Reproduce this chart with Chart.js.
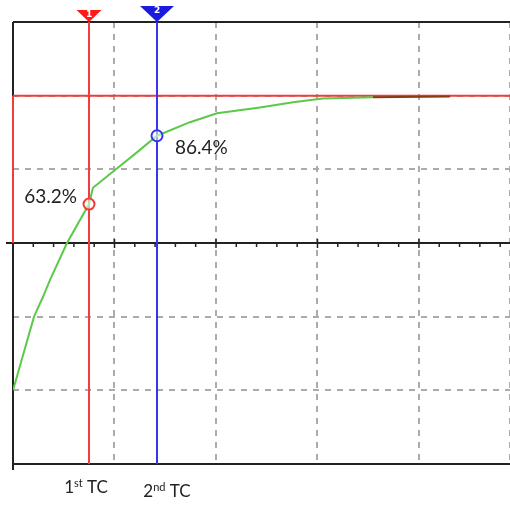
<!DOCTYPE html>
<html>
<head>
<meta charset="utf-8">
<style>
  html, body { margin: 0; padding: 0; background: #ffffff; }
  #wrap { width: 510px; height: 506px; }
  canvas { display: block; }
</style>
<script src="https://cdn.jsdelivr.net/npm/chart.js@4/dist/chart.umd.min.js"></script>
</head>
<body>
<div id="wrap"><canvas id="scope" width="510" height="506"></canvas></div>
<script>
// Step response captured on the scope, in screen divisions
const timeDiv     = [0, 0.207, 0.296, 0.365, 0.532, 0.749, 0.788, 1.005, 1.212, 1.419, 1.744, 2.010, 2.433, 2.759, 3.054, 3.547, 4.305];
const responseDiv = [1.0, 2.0, 2.27, 2.5, 3.0, 3.528, 3.75, 3.99, 4.22, 4.456, 4.64, 4.76, 4.84, 4.91, 4.96, 4.98, 4.99];

// Levels of the step (divisions) and the screen extent
const startLevel = 1;
const finalLevel = 5;
const zeroLevel = 3;
const xDivs = 4.897;
const yDivs = 6;

// Cursor readings: one and two time constants
const cursorTimes = [0.749, 1.419];
const tcFractions = [0.632, 0.864];
const cursorNumbers = ['1', '2'];
const cursorOrdinals = ['st', 'nd'];
const cursorColors = ['#f23b3b', '#3535f0'];

const tcLevels = tcFractions.map(f => startLevel + (finalLevel - startLevel) * f);
const tcLabels = tcFractions.map(f => (f * 100).toFixed(1) + '%');

const curve = timeDiv.map((t, i) => ({ x: t, y: responseDiv[i] }));
const lastSeg = curve.length - 2;

// Frame, centre axis with minor ticks, cursor flags and annotations
const scopeDecor = {
  id: 'scopeDecor',
  beforeDatasetsDraw(chart) {
    const { ctx, chartArea: a, scales: { x, y } } = chart;
    ctx.save();
    ctx.strokeStyle = '#222222';
    ctx.lineWidth = 2;
    ctx.beginPath();
    ctx.moveTo(a.left, a.top); ctx.lineTo(a.right, a.top);
    ctx.moveTo(a.left, a.top); ctx.lineTo(a.left, a.bottom + 6);
    ctx.moveTo(a.left, a.bottom); ctx.lineTo(a.right, a.bottom);
    ctx.stroke();
    // centre axis
    const y0 = y.getPixelForValue(zeroLevel);
    ctx.beginPath();
    ctx.moveTo(a.left - 7, y0); ctx.lineTo(a.right, y0);
    ctx.stroke();
    ctx.lineWidth = 1.5;
    ctx.beginPath();
    for (let k = 0; k <= Math.floor(xDivs * 5); k++) {
      const px = x.getPixelForValue(k / 5);
      if (k % 5 === 0) { ctx.moveTo(px, y0 - 4); ctx.lineTo(px, y0 + 5); }
      else { ctx.moveTo(px, y0); ctx.lineTo(px, y0 + 4); }
    }
    ctx.stroke();
    ctx.restore();
  },
  afterDraw(chart) {
    const { ctx, chartArea: a, scales: { x, y } } = chart;
    ctx.save();
    // cursor flags
    cursorTimes.forEach((t, i) => {
      const px = x.getPixelForValue(t);
      const w = i === 0 ? 25 : 34;
      const h = i === 0 ? 12 : 16;
      ctx.fillStyle = i === 0 ? '#ff1a1a' : '#1a1ae0';
      ctx.beginPath();
      ctx.moveTo(px - w / 2, a.top - h);
      ctx.lineTo(px + w / 2, a.top - h);
      ctx.lineTo(px, a.top);
      ctx.closePath();
      ctx.fill();
      ctx.fillStyle = '#ffffff';
      ctx.font = 'bold 9px "DejaVu Sans", sans-serif';
      ctx.textAlign = 'center';
      ctx.textBaseline = 'middle';
      ctx.fillText(cursorNumbers[i], px, a.top - h + 5);
    });
    // percentage annotations
    ctx.fillStyle = '#222222';
    ctx.font = '19px Lato, "Noto Sans", sans-serif';
    ctx.textBaseline = 'middle';
    const p1x = x.getPixelForValue(cursorTimes[0]);
    const p1y = y.getPixelForValue(tcLevels[0]);
    ctx.textAlign = 'right';
    ctx.fillText(tcLabels[0], p1x - 12, p1y - 7);
    const p2x = x.getPixelForValue(cursorTimes[1]);
    const p2y = y.getPixelForValue(tcLevels[1]);
    ctx.textAlign = 'left';
    ctx.fillText(tcLabels[1], p2x + 18, p2y + 12);
    // cursor captions under the screen
    const offs = [[-3, 29], [10, 33]];
    cursorTimes.forEach((t, i) => {
      const cx = x.getPixelForValue(t) + offs[i][0];
      const base = a.bottom + offs[i][1];
      const big = '17px Lato, "Noto Sans", sans-serif';
      const small = '11px Lato, "Noto Sans", sans-serif';
      ctx.font = big;
      const wNum = ctx.measureText(cursorNumbers[i]).width;
      const wTail = ctx.measureText(' TC').width;
      ctx.font = small;
      const wOrd = ctx.measureText(cursorOrdinals[i]).width;
      let sx = cx - (wNum + wOrd + wTail) / 2;
      ctx.textAlign = 'left';
      ctx.textBaseline = 'alphabetic';
      ctx.font = big;
      ctx.fillText(cursorNumbers[i], sx, base);
      sx += wNum;
      ctx.font = small;
      ctx.fillText(cursorOrdinals[i], sx, base - 6);
      sx += wOrd;
      ctx.font = big;
      ctx.fillText(' TC', sx, base);
    });
    ctx.restore();
  }
};

new Chart(document.getElementById('scope'), {
  type: 'line',
  data: {
    datasets: [
      {
        data: cursorTimes.map((t, i) => ({ x: t, y: tcLevels[i] })),
        showLine: false,
        pointRadius: 5.5,
        pointBorderWidth: 2,
        pointBackgroundColor: 'rgba(255,255,255,0.55)',
        pointBorderColor: cursorColors,
        order: 0,
        clip: false
      },
      {
        data: curve,
        borderColor: '#5cc94a',
        borderWidth: 2,
        pointRadius: 0,
        tension: 0,
        segment: { borderColor: c => c.p0DataIndex === lastSeg ? '#8a3b12' : '#5cc94a' },
        order: 1
      },
      {
        data: [{ x: cursorTimes[0], y: 0 }, { x: cursorTimes[0], y: yDivs }],
        borderColor: '#f23b3b', borderWidth: 2, pointRadius: 0, order: 2
      },
      {
        data: [{ x: cursorTimes[1], y: 0 }, { x: cursorTimes[1], y: yDivs }],
        borderColor: '#3535f0', borderWidth: 2, pointRadius: 0, order: 2
      },
      {
        data: [{ x: 0, y: finalLevel }, { x: xDivs, y: finalLevel }],
        borderColor: '#f23b3b', borderWidth: 2, pointRadius: 0, order: 3, clip: false
      },
      {
        data: [{ x: 0, y: zeroLevel }, { x: 0, y: finalLevel }],
        borderColor: '#f23b3b', borderWidth: 2, pointRadius: 0, order: 3, clip: false
      }
    ]
  },
  options: {
    responsive: false,
    devicePixelRatio: 1,
    animation: false,
    layout: { autoPadding: false, padding: { left: 13, top: 22, right: 0, bottom: 42 } },
    plugins: { legend: { display: false }, tooltip: { enabled: false } },
    scales: {
      x: {
        type: 'linear', min: 0, max: xDivs,
        ticks: { display: false, stepSize: 1 },
        grid: { color: '#ababab', lineWidth: 2, drawTicks: false },
        border: { display: false, dash: [6, 6] }
      },
      y: {
        type: 'linear', min: 0, max: yDivs,
        ticks: { display: false, stepSize: 1 },
        grid: { color: '#ababab', lineWidth: 2, drawTicks: false },
        border: { display: false, dash: [6, 6] }
      }
    }
  },
  plugins: [scopeDecor]
});
</script>
</body>
</html>
